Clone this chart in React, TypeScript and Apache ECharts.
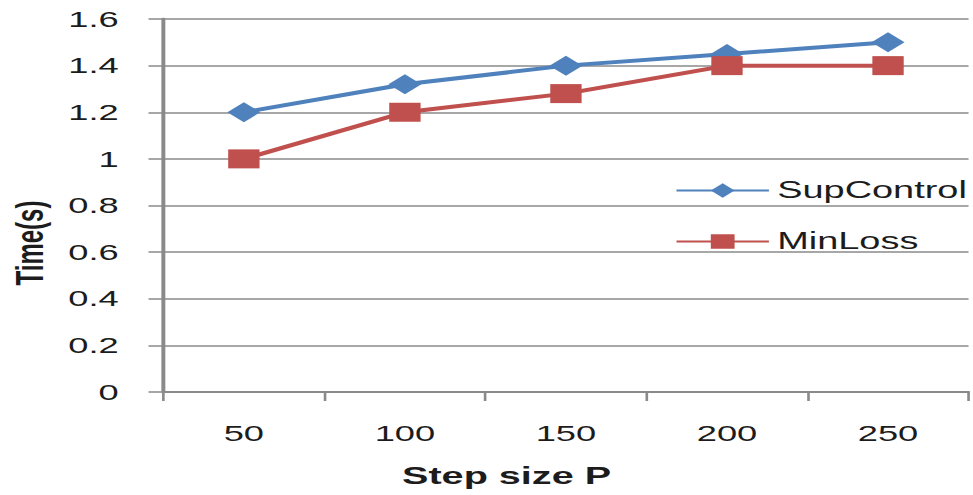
import React, { useEffect, useRef } from "react";
import * as echarts from "echarts";

// Step sizes on the category axis and measured run times (seconds)
const stepSizes = ["50", "100", "150", "200", "250"];
const supControl = [1.2, 1.32, 1.4, 1.45, 1.5];
const minLoss = [1.0, 1.2, 1.28, 1.4, 1.4];

const yTicks = { min: 0, max: 1.6, interval: 0.2 };

// The chart is laid out in a narrower box and widened horizontally
const STRETCH = 1.65;
const FULL_W = 973;
const FULL_H = 495;
const BOX_W = FULL_W / STRETCH;

const BLUE = "#4F81BD";
const RED = "#C0504D";
const GRID = "#8a8a8a";
const TEXT = "#1c1c1c";
const FONT = "'Liberation Sans', Arial, sans-serif";

export default function App() {
  const ref = useRef<HTMLDivElement>(null);

  useEffect(() => {
    if (!ref.current) return;
    const chart = echarts.init(ref.current, null, { renderer: "svg" });
    chart.setOption({
      animation: false,
      backgroundColor: "#ffffff",
      grid: { left: 99, right: 3, top: 19, bottom: 103, containLabel: false },
      xAxis: {
        type: "category",
        data: stepSizes,
        boundaryGap: true,
        axisLine: { show: true, lineStyle: { color: GRID, width: 2 } },
        axisTick: { show: true, inside: false, length: 9, lineStyle: { color: GRID, width: 1.6 } },
        axisLabel: { color: TEXT, fontSize: 22, fontFamily: FONT, margin: 30 },
        splitLine: { show: false },
      },
      yAxis: {
        type: "value",
        min: yTicks.min,
        max: yTicks.max,
        interval: yTicks.interval,
        axisLine: { show: true, lineStyle: { color: GRID, width: 2.4 } },
        axisTick: { show: true, inside: false, length: 9, lineStyle: { color: GRID, width: 1.5 } },
        axisLabel: { color: TEXT, fontSize: 22, fontFamily: FONT, margin: 27 },
        splitLine: { show: true, lineStyle: { color: GRID, width: 1.5 } },
      },
      legend: {
        orient: "vertical",
        left: 404,
        top: 174,
        itemWidth: 56,
        itemHeight: 18,
        itemGap: 28,
        textStyle: { color: TEXT, fontSize: 23, fontFamily: FONT, padding: [0, 0, 0, 0] },
        data: ["SupControl", "MinLoss"],
      },
      series: [
        {
          name: "SupControl",
          type: "line",
          data: supControl,
          symbol: "diamond",
          symbolSize: 20,
          lineStyle: { color: BLUE, width: 4 },
          itemStyle: { color: BLUE },
        },
        {
          name: "MinLoss",
          type: "line",
          data: minLoss,
          symbol: "rect",
          symbolSize: 19,
          lineStyle: { color: RED, width: 4 },
          itemStyle: { color: RED },
        },
      ],
      graphic: [
        {
          type: "text",
          x: 17.6,
          y: 243,
          rotation: Math.PI / 2,
          style: {
            text: "Time(s)",
            fontSize: 24,
            fontWeight: "bold",
            fontFamily: FONT,
            fill: TEXT,
            align: "center",
            verticalAlign: "middle",
          },
        },
        {
          type: "text",
          x: 307,
          y: 476,
          style: {
            text: "Step size P",
            fontSize: 24,
            fontWeight: "bold",
            fontFamily: FONT,
            fill: TEXT,
            align: "center",
            verticalAlign: "middle",
          },
        },
      ],
    });
    return () => chart.dispose();
  }, []);

  return (
    <div
      style={{
        position: "absolute",
        left: 0,
        top: 0,
        width: FULL_W,
        height: FULL_H,
        overflow: "hidden",
        background: "#ffffff",
      }}
    >
      <div
        ref={ref}
        style={{
          width: BOX_W,
          height: FULL_H,
          transform: `scaleX(${STRETCH})`,
          transformOrigin: "0 0",
        }}
      />
    </div>
  );
}
